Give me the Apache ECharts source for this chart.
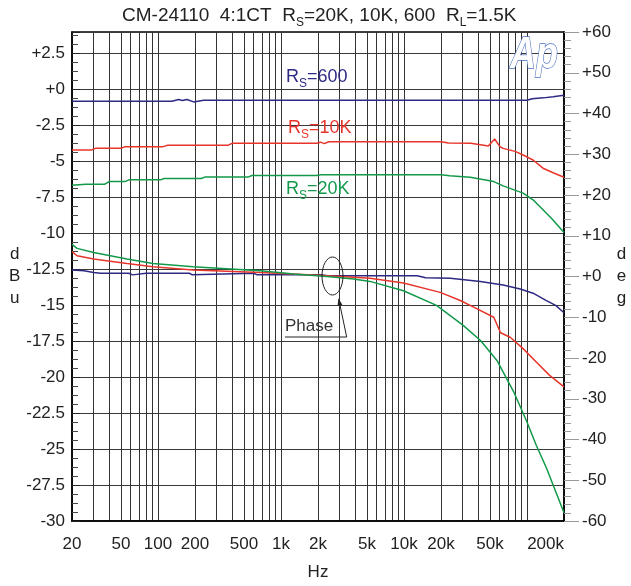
<!DOCTYPE html>
<html><head><meta charset="utf-8">
<script src="https://cdn.jsdelivr.net/npm/echarts@6/dist/echarts.min.js"></script>
<style>html,body{margin:0;padding:0;background:#fff}#c{width:631px;height:586px}</style>
</head><body><div id="c"></div>
<script>
// ---- axis ticks / labels ----
const xLabelValues = [20,50,100,200,500,1000,2000,5000,10000,20000,50000,200000];
const xGridValues = [20,30,40,50,60,70,80,90,100,200,300,400,500,600,700,800,900,1000,2000,3000,4000,5000,6000,7000,8000,9000,10000,20000,30000,40000,50000,60000,70000,80000,90000,100000,200000];

// ---- magnitude (dBu), Rs = 600 ----
const magFreq600 = [20,130,147,158,172,195,235,100000,110000,136000,163000,200000];
const magDb600   = [-0.82,-0.82,-0.69,-0.76,-0.69,-0.86,-0.74,-0.74,-0.64,-0.58,-0.51,-0.39];
// ---- magnitude (dBu), Rs = 10K ----
const magFreq10k = [20,29,31,50,54,110,120,370,400,1950,2100,2250,2450,20000,23000,35000,48500,54600,60000,64000,80000,93000,112000,135000,165000,200000];
const magDb10k   = [-4.2,-4.2,-4.09,-4.09,-3.97,-3.97,-3.88,-3.88,-3.74,-3.74,-3.66,-3.76,-3.63,-3.63,-3.72,-3.74,-3.93,-3.44,-3.95,-4.09,-4.3,-4.55,-4.9,-5.47,-5.8,-6.1];
// ---- magnitude (dBu), Rs = 20K ----
const magFreq20k = [20,26,37,40,54,58,105,112,225,240,540,580,1950,2100,20000,23500,34600,53700,64000,93000,112000,135000,160000,200000];
const magDb20k   = [-6.65,-6.58,-6.58,-6.4,-6.4,-6.28,-6.28,-6.19,-6.19,-6.09,-6.09,-5.98,-5.98,-5.92,-5.92,-6.0,-6.1,-6.4,-6.7,-7.2,-7.67,-8.36,-9.0,-9.94];

// ---- phase (deg) ----
const phFreq600 = [20,25,30,34,58,62,80,180,190,600,640,2100,2400,12800,15000,23800,41800,64000,88000,112000,144000,171000,200000];
const phDeg600  = [1.6,1.4,1.0,0.8,0.8,0.4,0.8,0.8,0.4,0.8,0.4,0.4,0.2,0.2,-0.3,-0.45,-1.2,-2.1,-3.06,-4.1,-5.9,-7.1,-8.9];
const phFreq10k = [20,22,30,56,91,193,680,1830,3900,5300,9900,19700,28700,39000,53700,61000,73000,93000,119000,152000,200000];
const phDeg10k  = [6.1,5.1,4.3,3.2,2.4,1.6,1.0,0.37,-0.2,-0.45,-1.6,-3.9,-5.9,-7.9,-10,-13.8,-14.9,-17.7,-21,-24.2,-27.1];
const phFreq20k = [20,22,30,56,91,193,680,1270,2360,3900,5300,9900,18400,30300,41900,57000,78000,99600,119000,144000,200000];
const phDeg20k  = [7.9,6.9,5.9,4.3,3.2,2.4,1.4,0.6,0,-0.6,-1.2,-3.5,-7.1,-12,-15.7,-20.6,-28.3,-35.6,-41.4,-47,-58];

const C600 = '#2e2a84', C10K = '#e8352b', C20K = '#13994a';
const pairs = (fs, vs) => fs.map((f, i) => [f, vs[i]]);
const FONT = 'Liberation Sans';

const chart = echarts.init(document.getElementById('c'), null, {renderer: 'canvas'});
const line = (data, color, yIdx) => ({
  type: 'line', data, yAxisIndex: yIdx, showSymbol: false, symbol: 'none',
  lineStyle: {color, width: 1.5}, itemStyle: {color}, silent: true, animation: false, z: 3
});
const subRich = (color, size, sub) => ({
  r: {fontSize: size, fontFamily: FONT, fontWeight: 'normal', fill: color, color, lineHeight: 26},
  s: {fontSize: sub, fontFamily: FONT, fontWeight: 'normal', fill: color, color, lineHeight: 12, verticalAlign: 'bottom'}
});

chart.setOption({
  animation: false,
  backgroundColor: '#fff',
  title: {
    text: '{r|CM-24110  4:1CT  R}{s|S}{r|=20K, 10K, 600  R}{s|L}{r|=1.5K}',
    left: 122, top: 3, padding: 0,
    textStyle: {fontWeight: 'normal', rich: subRich('#222', 19, 12)}
  },
  grid: {left: 72, right: 67, top: 32, bottom: 63.5, show: true, borderColor: '#000', borderWidth: 1.5, backgroundColor: 'transparent'},
  xAxis: {
    type: 'log', logBase: 10, min: 20, max: 200000,
    axisLine: {show: true, onZero: false, lineStyle: {color: '#000', width: 1.5}},
    axisTick: {show: false, customValues: xGridValues},
    axisLabel: {customValues: xLabelValues, color: '#222', fontSize: 17, fontFamily: FONT, margin: 15, alignMaxLabel: 'right',
      formatter: v => { v = Math.round(v); return v >= 1000 ? (v / 1000) + 'k' : String(v); }},
    splitLine: {show: true, lineStyle: {color: '#333', width: 1}},
    name: 'Hz', nameLocation: 'middle', nameGap: 43,
    nameTextStyle: {color: '#222', fontSize: 17, fontFamily: FONT}
  },
  yAxis: [{
    type: 'value', min: -30, max: 4, interval: 2.5, position: 'left',
    axisLine: {show: true, onZero: false, lineStyle: {color: '#000', width: 1.5}},
    axisTick: {show: true, inside: true, length: 8, lineStyle: {color: '#222'}},
    minorTick: {show: true, splitNumber: 4, length: 6, lineStyle: {color: '#444'}},
    axisLabel: {color: '#222', fontSize: 17, fontFamily: FONT, margin: 7,
      formatter: v => v > 3 ? '' : (v > 0 ? '+' + v : (v === 0 ? '+0' : String(v)))},
    splitLine: {show: true, lineStyle: {color: '#3a3a3a', width: 1}},
    name: 'd\nB\nu', nameLocation: 'middle', nameRotate: 0, nameGap: 50,
    nameTextStyle: {color: '#222', fontSize: 17, fontFamily: FONT, lineHeight: 22, align: 'center'}
  }, {
    type: 'value', min: -60, max: 60, interval: 10, position: 'right',
    axisLine: {show: true, onZero: false, lineStyle: {color: '#000', width: 1.5}},
    axisTick: {show: true, inside: false, length: 15, lineStyle: {color: '#999'}},
    minorTick: {show: true, splitNumber: 5, length: 7, lineStyle: {color: '#999'}},
    axisLabel: {color: '#222', fontSize: 17, fontFamily: FONT, margin: 18,
      formatter: v => v >= 0 ? '+' + v : String(v)},
    splitLine: {show: false},
    name: 'd\ne\ng', nameLocation: 'middle', nameRotate: 0, nameGap: 56,
    nameTextStyle: {color: '#222', fontSize: 17, fontFamily: FONT, lineHeight: 22, align: 'center'}
  }],
  series: [
    line(pairs(magFreq600, magDb600), C600, 0),
    line(pairs(magFreq10k, magDb10k), C10K, 0),
    line(pairs(magFreq20k, magDb20k), C20K, 0),
    line(pairs(phFreq600, phDeg600), C600, 1),
    line(pairs(phFreq10k, phDeg10k), C10K, 1),
    line(pairs(phFreq20k, phDeg20k), C20K, 1)
  ],
  graphic: [
    {type: 'text', x: 286, y: 64, z: 10, style: {text: '{r|R}{s|S}{r|=600}', rich: subRich(C600, 18, 12)}},
    {type: 'text', x: 288, y: 115, z: 10, style: {text: '{r|R}{s|S}{r|=10K}', rich: subRich(C10K, 18, 12)}},
    {type: 'text', x: 286, y: 176, z: 10, style: {text: '{r|R}{s|S}{r|=20K}', rich: subRich(C20K, 18, 12)}},
    {type: 'ellipse', z: 10, shape: {cx: 332.5, cy: 276, rx: 10.5, ry: 19}, style: {fill: 'none', stroke: '#222', lineWidth: 1}},
    {type: 'polyline', z: 10, shape: {points: [[285, 337], [346.7, 337], [338.8, 299.5]]}, style: {fill: 'none', stroke: '#222', lineWidth: 1}},
    {type: 'polygon', z: 10, shape: {points: [[338.5, 298.3], [342.4, 305], [337.5, 306]]}, style: {fill: '#222'}},
    {type: 'text', x: 285, y: 326, z: 10, style: {text: 'Phase', font: '17px "Liberation Sans"', fill: '#333', verticalAlign: 'middle'}},
    {type: 'text', x: 510, y: 33, z: 10, scaleY: 1.25, style: {text: 'Ap', font: 'italic bold 36px "Liberation Sans"', fill: '#fff', stroke: '#4a6fc0', lineWidth: 1.1}}
  ]
});
</script></body></html>
